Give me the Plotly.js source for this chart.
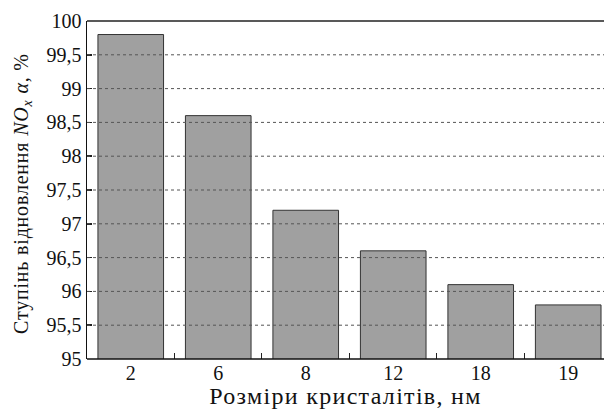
<!DOCTYPE html>
<html>
<head>
<meta charset="utf-8">
<script src="https://cdn.plot.ly/plotly-3.0.1.min.js"></script>
<style>
html,body{margin:0;padding:0;background:#fff;}
#chart{width:604px;height:409px;}
#prime{position:absolute;left:0;top:0;font-family:'Liberation Serif';font-size:20px;color:#fff;opacity:0.01;pointer-events:none;}
text{font-family:'Liberation Serif',serif !important;}
.xtitle{letter-spacing:1.3px;}
.annotation-text{letter-spacing:0.8px;}
</style>
</head>
<body>
<div id="prime">0123456789, Ступінь</div>
<div id="chart"></div>
<script>
const categories = ['2', '6', '8', '12', '18', '19'];
const values = [99.8, 98.6, 97.2, 96.6, 96.1, 95.8];
const yTicks = [95, 95.5, 96, 96.5, 97, 97.5, 98, 98.5, 99, 99.5, 100];
const yTickLabels = ['95', '95,5', '96', '96,5', '97', '97,5', '98', '98,5', '99', '99,5', '100'];
const xTitle = 'Розміри кристалітів, нм';
const yTitle = 'Ступінь відновлення <i>NO<sub>x</sub></i> <i>α</i>, %';

const FONT = 'Liberation Serif';
const FS = 20;

const shapes = yTicks.filter(v => v > 95 && v < 100).map(v => ({
  type: 'line', xref: 'paper', yref: 'y', x0: 0, x1: 1, y0: v, y1: v,
  layer: 'above', line: {color: '#555', width: 1, dash: 'dot'}
}));
shapes.push({type: 'line', xref: 'paper', yref: 'paper', x0: 0, x1: 1, y0: 1, y1: 1,
  layer: 'above', line: {color: '#222', width: 1.5}});
shapes.push({type: 'line', xref: 'paper', yref: 'paper', x0: 0, x1: 1, y0: 0, y1: 0,
  layer: 'above', line: {color: '#111', width: 1.5}});

const trace = {
  type: 'bar', x: categories, y: values, width: 0.75,
  marker: {color: '#a0a0a0', line: {color: '#333', width: 1}},
  hoverinfo: 'none'
};

const layout = {
  width: 604, height: 409,
  margin: {l: 87, r: 0, t: 21, b: 50, pad: 0},
  paper_bgcolor: '#fff', plot_bgcolor: '#fff',
  font: {family: FONT, size: FS, color: '#111'},
  showlegend: false,
  xaxis: {
    type: 'category', range: [-0.5, 5.409],
    showgrid: false, zeroline: false, showline: false,
    ticks: 'inside', tickson: 'boundaries', ticklen: 6, tickcolor: '#222', tickwidth: 1,
    title: {text: xTitle, standoff: 1}
  },
  yaxis: {
    range: [95, 100], tickvals: yTicks, ticktext: yTickLabels,
    showgrid: false, zeroline: false,
    showline: true, linecolor: '#111', linewidth: 1.5,
    ticks: 'inside', ticklen: 5, tickcolor: '#222', tickwidth: 1.5
  },
  annotations: [{
    text: yTitle, xref: 'paper', yref: 'paper', x: 0, y: 0.5,
    xanchor: 'center', yanchor: 'middle', xshift: -65, yshift: -4,
    textangle: -90, showarrow: false, font: {family: FONT, size: FS, color: '#111'}
  }],
  shapes: shapes
};

Plotly.newPlot('chart', [trace], layout, {staticPlot: true, displayModeBar: false});
</script>
</body>
</html>
